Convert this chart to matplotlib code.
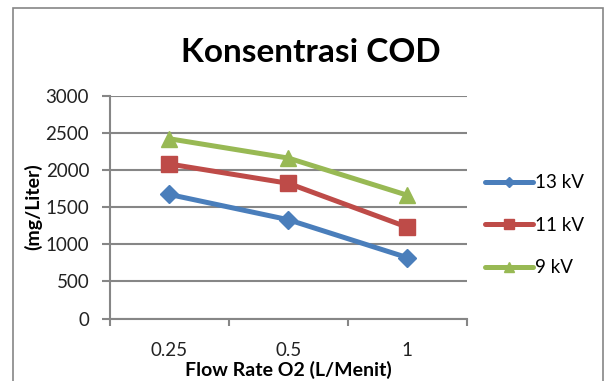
import numpy as np
import matplotlib.pyplot as plt

categories = ["0.25", "0.5", "1"]
series_names = ["13 kV", "11 kV", "9 kV"]
cod_13kv = [1670, 1330, 820]
cod_11kv = [2080, 1820, 1230]
cod_9kv = [2420, 2160, 1660]
y_ticks = [0, 500, 1000, 1500, 2000, 2500, 3000]

colors = ["#4A7EBB", "#BE4B48", "#98B954"]
markers = ["D", "s", "^"]
msizes = [9, 11, 11]

plt.rcParams['font.family'] = ['Lato', 'DejaVu Sans']

fig = plt.figure(figsize=(6.06, 3.81), dpi=100)
ax = fig.add_axes([110 / 606, 1 - 318.5 / 381, (466.7 - 110) / 606, (318.5 - 95.7) / 381])

x = np.arange(len(categories))
for vals, name, c, m, ms in zip([cod_13kv, cod_11kv, cod_9kv], series_names, colors, markers, msizes):
    ax.plot(x, vals, color=c, lw=3.6, marker=m, ms=ms, mec=c, mfc=c,
            label=name, solid_capstyle='round', zorder=3)

ax.set_xlim(-0.5, len(categories) - 0.5)
ax.set_ylim(0, 3000)
ax.set_yticks(y_ticks)
ax.set_yticklabels([str(v) for v in y_ticks], fontsize=13.5, color="#222222")
ax.set_xticks(x)
ax.set_xticklabels(categories, fontsize=13.5, color="#222222")
ax.tick_params(axis='x', length=0, pad=17)
ax.set_xticks(np.arange(-0.5, len(categories)), minor=True)
ax.tick_params(axis='x', which='minor', length=5, width=1.5, color="#868686", direction='out')
ax.tick_params(axis='y', length=6, width=1.5, color="#868686", direction='out', pad=9)

ax.grid(axis='y', color="#868686", lw=1.5, zorder=0)
for side in ['top', 'right']:
    ax.spines[side].set_visible(False)
for side in ['left', 'bottom']:
    ax.spines[side].set_color("#868686")
    ax.spines[side].set_linewidth(1.5)

ax.set_xlabel("Flow Rate O2 (L/Menit)", fontsize=14, fontweight='bold', labelpad=1)
ax.set_ylabel("(mg/Liter)", fontsize=14, fontweight='bold', labelpad=2)
fig.text(311 / 606, 1 - 53 / 381, "Konsentrasi COD", fontsize=24, fontweight='bold',
         ha='center', va='center')

leg = fig.legend(loc='upper left', bbox_to_anchor=(477 / 606, 1 - 167 / 381), frameon=False,
                 fontsize=13.5, handlelength=2.6, handletextpad=0.1, labelspacing=1.35,
                 borderaxespad=0, markerscale=0.6)

# outer chart border
fig.patches.append(plt.Rectangle((13 / 606, -0.01), (603 - 13) / 606, 1 - 8 / 381 + 0.01,
                                 transform=fig.transFigure, fill=False,
                                 edgecolor="#868686", lw=1.2))

fig.savefig("out.png", dpi=100)
